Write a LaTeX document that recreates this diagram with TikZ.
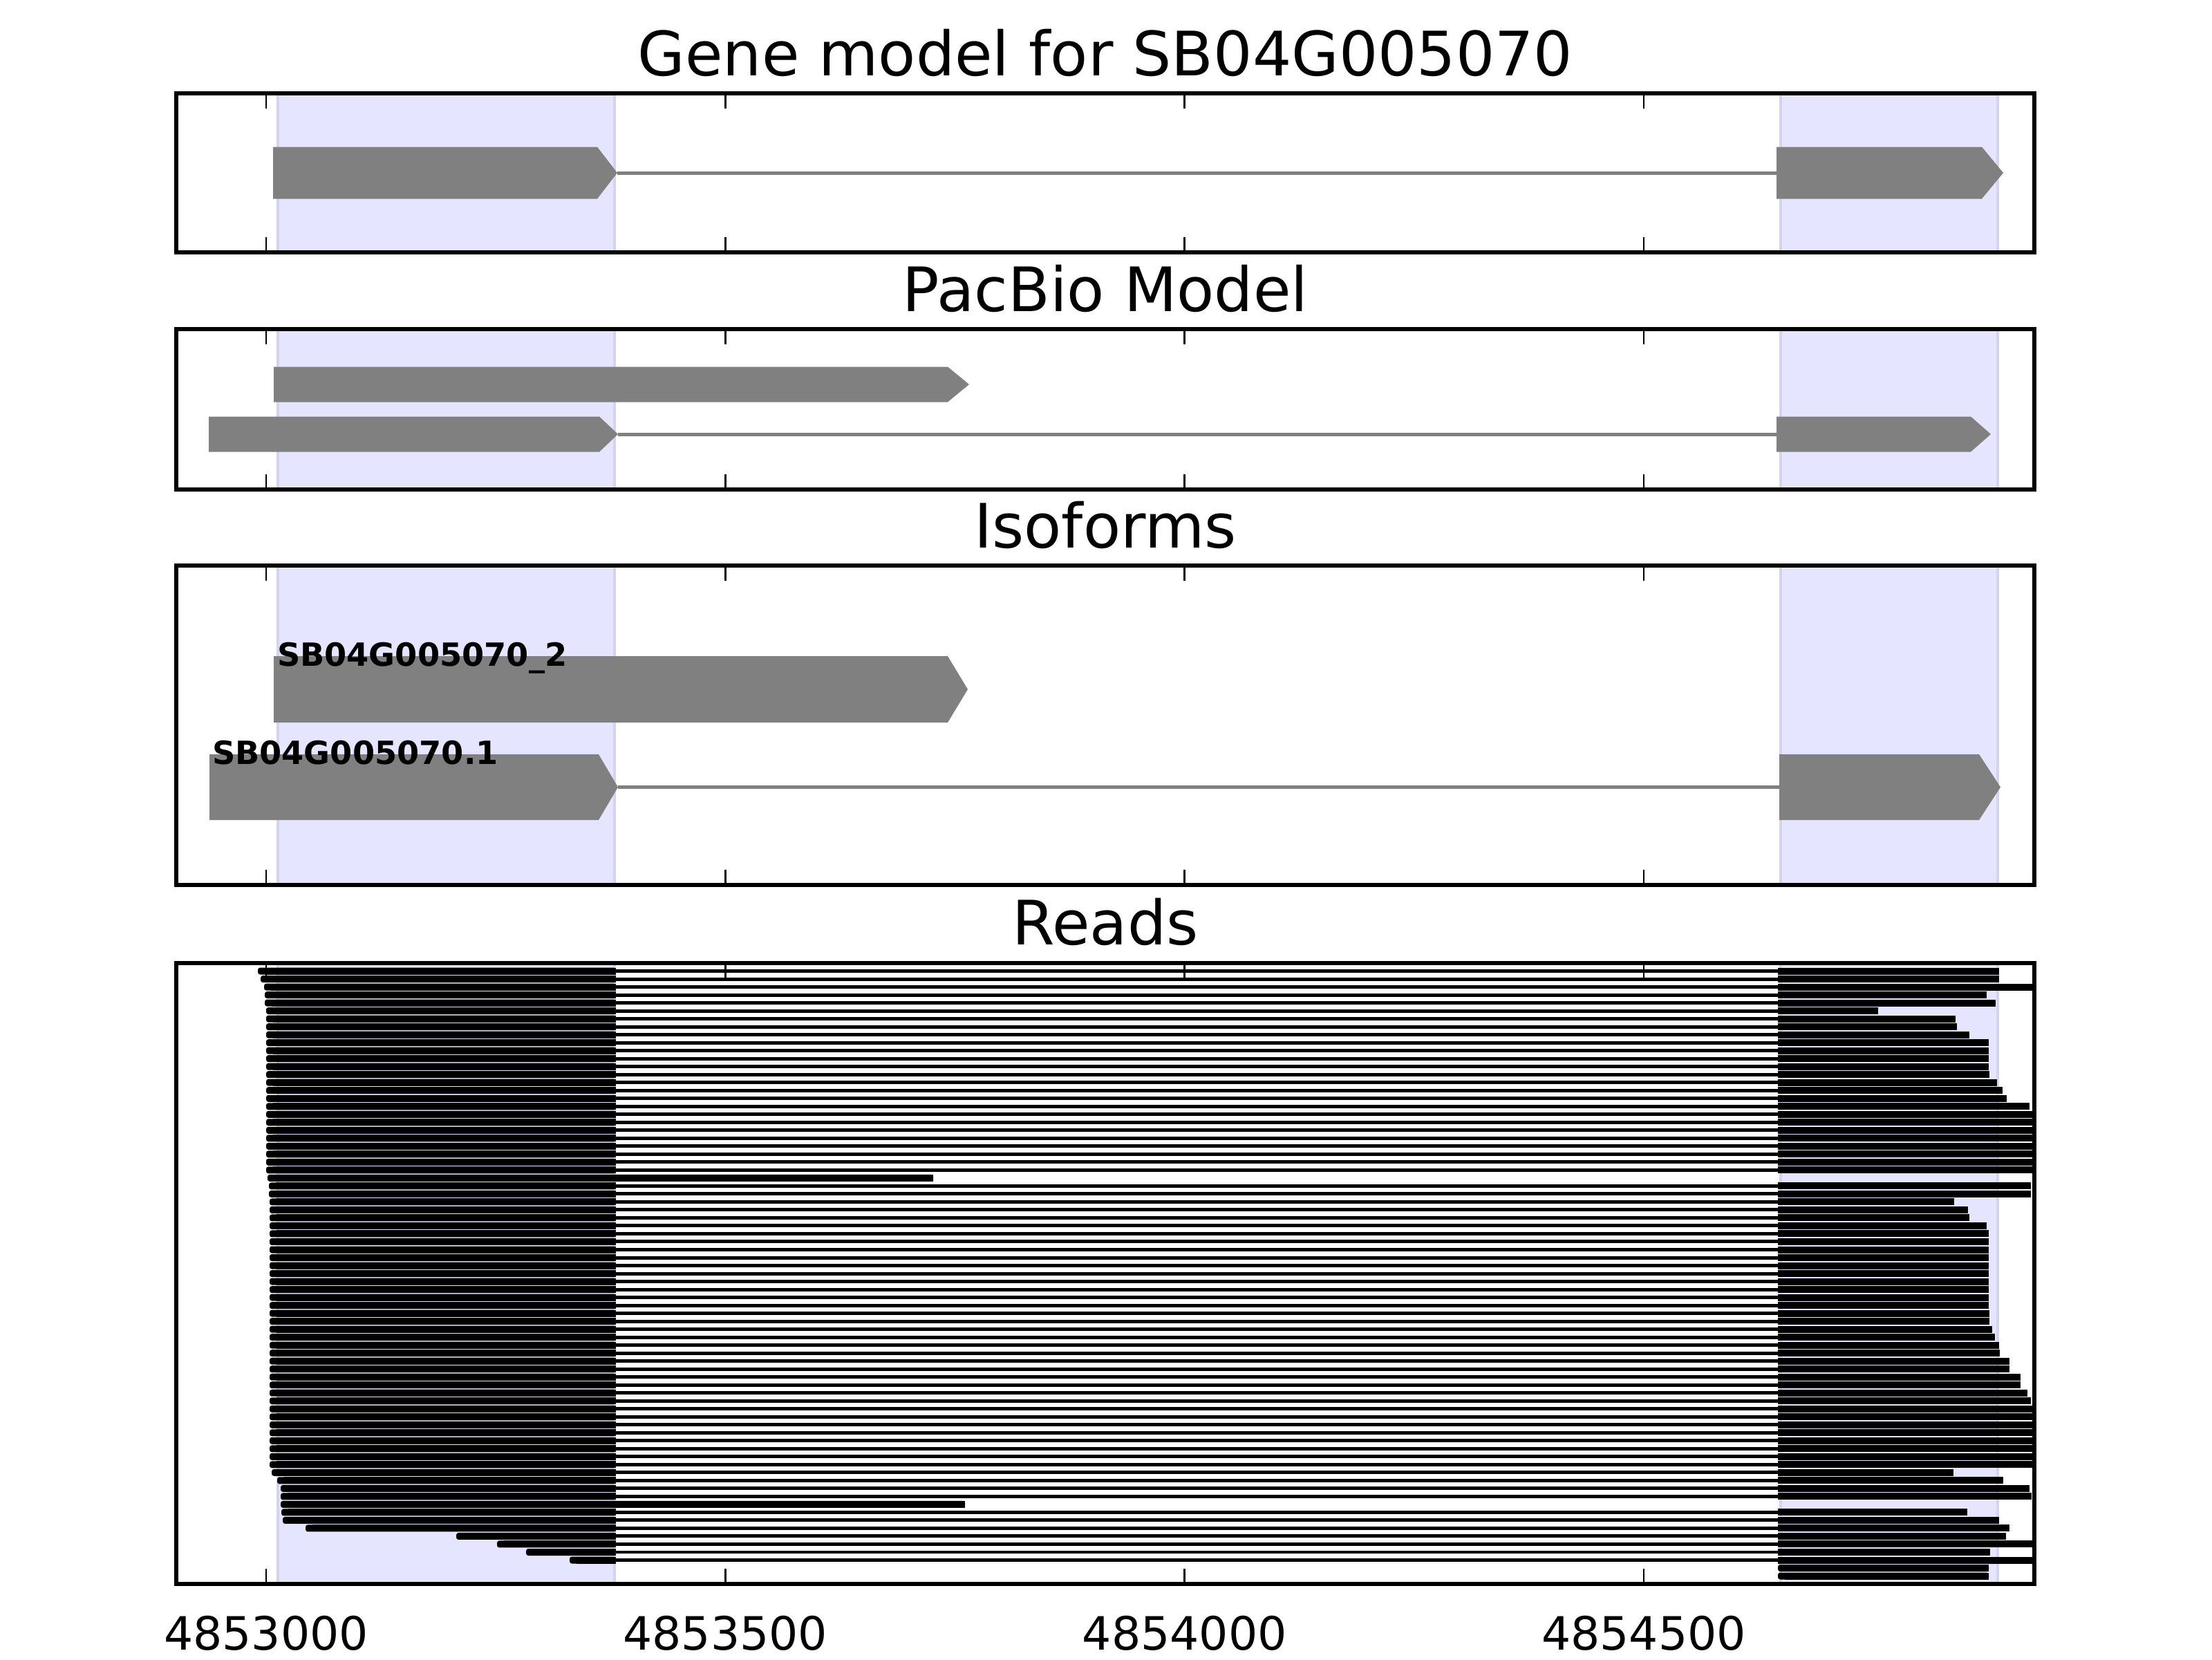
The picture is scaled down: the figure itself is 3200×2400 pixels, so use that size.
\documentclass[tikz,border=0pt]{standalone}
\usepackage{fontspec}
\setmainfont{DejaVu Sans}

\definecolor{exongray}{HTML}{808080}
\definecolor{spanfill}{RGB}{229,229,255}
\definecolor{spanedge}{RGB}{212,212,238}

% exon drawn as a block with a pointed right end
\newcommand{\exonarrow}[5]{%
  \fill[exon] (#1,#4-#5) -- (#2,#4-#5) -- (#3,#4) -- (#2,#4+#5) -- (#1,#4+#5) -- cycle;}
% shaded exon spans of one panel
\newcommand{\panelspans}[2]{%
  \filldraw[span] (402,#1) rectangle (889,#2);
  \filldraw[span] (2576,#1) rectangle (2890,#2);}
% ticks and frame of one panel
\newcommand{\panelframe}[2]{%
  \foreach \t in {385,1049.3,1713.7,2378} {
    \draw[tick] (\t,#1) -- (\t,#1+22);
    \draw[tick] (\t,#2) -- (\t,#2-22);
  }
  \draw[frame] (255,#1) rectangle (2943,#2);}
% one read block, rounded at its start
\newcommand{\readstart}[3]{%
  \fill[readexon, rounded corners=0.6pt] (#1,#3-5) rectangle (#2,#3+5);
  \fill[readexon] (#1+10,#3-5) rectangle (#2,#3+5);}

\begin{document}
\begin{tikzpicture}[
    x=0.00635cm, y=-0.00635cm,
    frame/.style={draw=black, line width=1pt},
    span/.style={fill=spanfill, draw=spanedge, line width=0.8pt},
    exon/.style={fill=exongray},
    intron/.style={draw=exongray, line width=0.9pt},
    tick/.style={draw=black, line width=0.5pt},
    readexon/.style={fill=black},
    readintron/.style={draw=black, line width=0.9pt},
    paneltitle/.style={font=\fontsize{16}{19}\selectfont, anchor=base, inner sep=0pt},
    isolabel/.style={font=\bfseries\fontsize{8.35}{10}\selectfont, anchor=base west, inner sep=0pt},
    ticklabel/.style={font=\fontsize{12}{14}\selectfont, anchor=base, inner sep=0pt}
]
    \useasboundingbox[fill=white] (0,0) rectangle (3200,2400);

    % gene model
    \node[paneltitle] (genetitle) at (1599,109) {Gene model for SB04G005070};
    \panelspans{135}{365}
    \exonarrow{395}{864}{893}{250}{37.5}
    \draw[intron] (893,250) -- (2570,250);
    \exonarrow{2570}{2867}{2898}{250}{37.5}
    \panelframe{135}{365}

    % pacbio model
    \node[paneltitle] (pacbiotitle) at (1599,450) {PacBio Model};
    \panelspans{476}{708}
    \exonarrow{396}{1371}{1402}{556}{25.5}
    \exonarrow{302}{867}{894}{628}{25.5}
    \draw[intron] (894,628) -- (2570,628);
    \exonarrow{2570}{2851}{2880}{628}{25.5}
    \panelframe{476}{708}

    % isoforms
    \node[paneltitle] (isotitle) at (1599,792) {Isoforms};
    \panelspans{818}{1280}
    \exonarrow{396}{1371}{1400}{997}{48}
    \exonarrow{303}{866}{894}{1138.5}{47.5}
    \draw[intron] (894,1138.5) -- (2574,1138.5);
    \exonarrow{2574}{2863}{2894}{1138.5}{47.5}
    \node[isolabel] (isotwo) at (400,963) {SB04G005070\_2};
    \node[isolabel] (isoone) at (306,1105) {SB04G005070.1};
    \panelframe{818}{1280}

    % reads
    \node[paneltitle] (readtitle) at (1599,1366) {Reads};
    \panelspans{1393}{2291}
    \begin{scope}
        \clip (255,1393) rectangle (2943,2291);
        % spliced reads: row/start/end
        \foreach \i/\s/\e in {0/373/2892, 1/377/2892, 2/382/2960, 3/383/2874,
            4/383/2887, 5/385/2717, 6/385/2829, 7/385/2831, 8/385/2849,
            9/385/2877, 10/385/2877, 11/385/2877, 12/385/2877, 13/385/2878,
            14/385/2889, 15/385/2897, 16/385/2903, 17/385/2936, 18/385/2960,
            19/385/2960, 20/385/2960, 21/385/2960, 22/385/2960, 23/385/2960,
            24/385/2960, 25/385/2960, 27/389/2938, 28/389/2938, 29/390/2827,
            30/390/2847, 31/390/2849, 32/390/2874, 33/390/2877, 34/390/2877,
            35/390/2877, 36/390/2877, 37/390/2877, 38/390/2877, 39/390/2877,
            40/390/2877, 41/390/2877, 42/390/2877, 43/390/2878, 44/390/2878,
            45/390/2882, 46/390/2886, 47/390/2892, 48/390/2893, 49/390/2907,
            50/390/2907, 51/390/2923, 52/390/2923, 53/390/2933, 54/390/2938,
            55/390/2960, 56/390/2960, 57/390/2960, 58/390/2960, 59/390/2960,
            60/390/2960, 61/390/2960, 62/390/2960, 63/393/2826, 64/401/2898,
            65/406/2936, 66/406/2939, 68/407/2846, 69/409/2892, 70/442/2907,
            71/660/2902, 72/719/2960, 73/761/2879, 74/824/2960} {
            \pgfmathsetmacro\yy{1393+(\i+1)*11.513}
            \readstart{\s}{891}{\yy}
            \draw[readintron] (891,\yy) -- (2572,\yy);
            \fill[readexon] (2572,\yy-5) rectangle (\e,\yy+5);
        }
        % unspliced reads
        \foreach \i/\s/\e in {26/387/1350, 67/406/1396} {
            \pgfmathsetmacro\yy{1393+(\i+1)*11.513}
            \readstart{\s}{\e}{\yy}
        }
        % reads on the second exon only
        \foreach \i in {75,76} {
            \pgfmathsetmacro\yy{1393+(\i+1)*11.513}
            \readstart{2572}{2877}{\yy}
        }
    \end{scope}
    \panelframe{1393}{2291}

    % axis labels
    \foreach \t/\lab in {385/4853000, 1049.3/4853500, 1713.7/4854000, 2378/4854500}
        \node[ticklabel] (tick\lab) at (\t,2386) {\lab};
\end{tikzpicture}
\end{document}
